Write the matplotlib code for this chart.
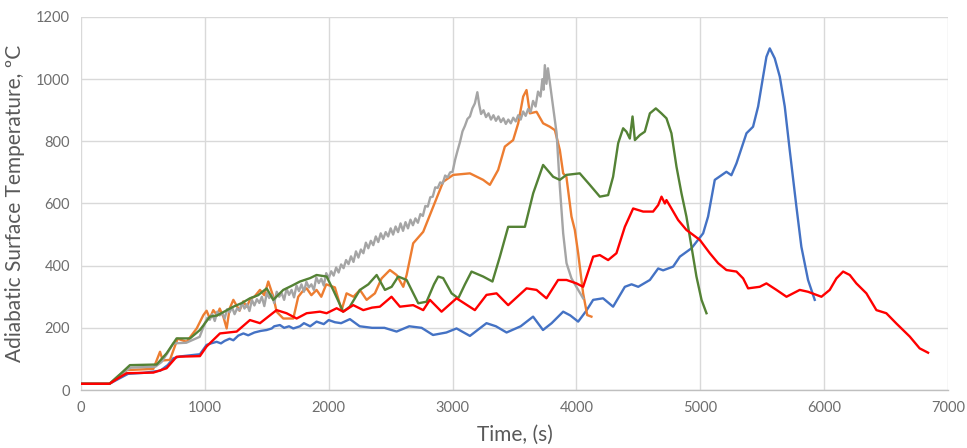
import matplotlib
matplotlib.use("Agg")
import matplotlib.pyplot as plt

# ---- data ----
blue_t = [0, 230, 300, 380, 500, 640, 700, 745, 800, 960, 1014, 1050, 1095, 1130, 1160, 1200, 1230, 1270, 1311, 1350, 1400, 1450, 1499, 1540, 1560, 1606, 1640, 1680, 1714, 1768, 1800, 1850, 1902, 1960, 2000, 2050, 2100, 2171, 2250, 2350, 2450, 2548, 2650, 2750, 2842, 2950, 3032, 3140, 3274, 3350, 3436, 3550, 3650, 3730, 3800, 3893, 3950, 4014, 4080, 4135, 4215, 4296, 4391, 4445, 4499, 4593, 4660, 4700, 4781, 4835, 4929, 5023, 5063, 5117, 5211, 5251, 5292, 5373, 5426, 5467, 5507, 5534, 5561, 5601, 5642, 5682, 5722, 5776, 5816, 5870, 5924]
blue_v = [20, 20, 35, 52, 55, 62, 80, 102, 108, 115, 145, 150, 155, 150, 158, 165, 160, 175, 182, 176, 185, 190, 193, 198, 205, 209, 200, 205, 198, 205, 215, 205, 220, 212, 225, 218, 215, 228, 205, 200, 200, 188, 205, 200, 177, 185, 198, 174, 215, 205, 185, 205, 236, 193, 215, 252, 240, 220, 255, 290, 295, 268, 332, 340, 332, 354, 391, 385, 397, 429, 456, 504, 558, 676, 702, 691, 729, 826, 847, 912, 1008, 1072, 1099, 1067, 1008, 912, 772, 590, 461, 354, 290]

orange_t = [0, 230, 300, 369, 584, 638, 660, 718, 780, 853, 934, 988, 1014, 1040, 1068, 1100, 1120, 1150, 1176, 1200, 1230, 1280, 1310, 1338, 1370, 1400, 1445, 1480, 1512, 1553, 1579, 1633, 1714, 1754, 1790, 1822, 1860, 1902, 1940, 1980, 2050, 2104, 2144, 2200, 2252, 2306, 2373, 2427, 2494, 2548, 2602, 2629, 2682, 2763, 2844, 2924, 3005, 3140, 3247, 3301, 3368, 3422, 3489, 3530, 3570, 3597, 3624, 3678, 3731, 3785, 3826, 3866, 3893, 3919, 3960, 3987, 4014, 4054, 4087, 4121]
orange_v = [20, 20, 40, 64, 68, 123, 95, 97, 165, 155, 198, 241, 255, 230, 257, 240, 262, 235, 198, 262, 290, 255, 285, 268, 295, 300, 322, 305, 349, 300, 252, 230, 230, 300, 318, 327, 305, 322, 300, 340, 330, 257, 311, 300, 322, 290, 311, 359, 386, 370, 332, 370, 472, 509, 590, 670, 692, 697, 676, 660, 708, 783, 804, 858, 944, 965, 890, 895, 858, 847, 836, 772, 697, 686, 558, 515, 440, 311, 241, 236]

gray_t = [0, 230, 300, 400, 600, 650, 700, 745, 850, 958,
          1000, 1020, 1040, 1060, 1080, 1100, 1120, 1140, 1160, 1180, 1200, 1220, 1240, 1260, 1280, 1300, 1320, 1340, 1360, 1380,
          1400, 1420, 1440, 1460, 1480, 1500, 1520, 1540, 1560, 1580, 1600, 1620, 1640, 1660, 1680, 1700, 1720, 1740, 1760, 1780,
          1800, 1820, 1840, 1860, 1880, 1900, 1920, 1940, 1960, 1980, 2000, 2020, 2040, 2060, 2080, 2100, 2120, 2140, 2160, 2180,
          2200, 2220, 2240, 2260, 2280, 2300, 2320, 2340, 2360, 2380, 2400, 2420, 2440, 2460, 2480, 2500, 2520, 2540, 2560, 2580,
          2600, 2620, 2640, 2660, 2680, 2700, 2720, 2740, 2760, 2780, 2800, 2820, 2840, 2860, 2880, 2900, 2920, 2940, 2960, 2980,
          3000, 3020, 3040, 3060, 3080, 3100, 3120, 3140, 3160, 3180, 3200, 3215, 3230, 3250, 3270, 3290, 3310, 3330, 3350, 3370,
          3390, 3410, 3430, 3450, 3470, 3490, 3510, 3530, 3550, 3570, 3590, 3610, 3630, 3650, 3670, 3690, 3710, 3725, 3735, 3745,
          3758, 3770, 3785, 3800, 3815, 3840, 3866, 3893, 3920, 3960, 4014, 4054]
gray_v = [20, 20, 45, 72, 75, 90, 120, 150, 152, 171,
          215, 232, 226, 244, 222, 252, 240, 248, 230, 260, 250, 266, 244, 262, 256, 280, 262, 276, 254, 290,
          272, 292, 280, 300, 270, 312, 296, 306, 280, 316, 300, 312, 290, 326, 306, 322, 298, 336, 318, 340,
          316, 348, 330, 340, 322, 362, 344, 358, 336, 376, 360, 382, 368, 394, 378, 404, 392, 418, 405, 430,
          412, 446, 426, 452, 440, 474, 456, 480, 466, 494, 476, 504, 486, 508, 494, 520, 500, 526, 508, 536,
          512, 540, 520, 548, 530, 552, 538, 566, 560, 592, 590, 620, 622, 652, 650, 668, 664, 690, 684, 700,
          702, 740, 770, 798, 832, 850, 872, 880, 906, 922, 958, 918, 888, 900, 878, 890, 870, 884, 866, 880,
          862, 874, 856, 870, 858, 876, 864, 884, 870, 896, 882, 904, 894, 930, 912, 960, 944, 1000, 966, 1045,
          985, 1035, 990, 945, 900, 826, 654, 504, 408, 359, 322, 295]

green_t = [0, 230, 300, 395, 611, 691, 772, 880, 960, 1041, 1100, 1230, 1300, 1364, 1430, 1499, 1552, 1633, 1700, 1768, 1850, 1902, 1983, 2036, 2117, 2170, 2252, 2320, 2387, 2454, 2508, 2561, 2629, 2669, 2723, 2790, 2850, 2884, 2924, 2992, 3046, 3100, 3153, 3247, 3322, 3382, 3449, 3516, 3584, 3651, 3731, 3812, 3866, 3919, 4027, 4108, 4189, 4256, 4296, 4337, 4377, 4404, 4431, 4453, 4472, 4512, 4552, 4593, 4641, 4686, 4727, 4767, 4808, 4848, 4888, 4929, 4969, 5010, 5050]
green_v = [20, 20, 45, 80, 82, 118, 166, 166, 193, 236, 240, 268, 280, 295, 305, 327, 290, 322, 335, 349, 360, 370, 365, 322, 252, 268, 322, 340, 370, 322, 332, 365, 354, 322, 279, 284, 340, 365, 360, 311, 295, 340, 381, 365, 349, 429, 525, 525, 525, 633, 724, 686, 676, 692, 697, 660, 622, 627, 686, 794, 842, 831, 809, 880, 804, 820, 831, 890, 906, 890, 874, 826, 718, 633, 558, 461, 365, 290, 247]

red_t = [0, 230, 300, 369, 584, 691, 772, 960, 1014, 1122, 1257, 1364, 1445, 1579, 1660, 1741, 1822, 1929, 1983, 2064, 2117, 2198, 2279, 2350, 2413, 2507, 2575, 2682, 2763, 2817, 2911, 3032, 3180, 3274, 3355, 3449, 3597, 3678, 3758, 3852, 3920, 4000, 4054, 4135, 4189, 4256, 4323, 4391, 4458, 4539, 4619, 4660, 4687, 4714, 4727, 4767, 4821, 4888, 4996, 5077, 5144, 5211, 5292, 5346, 5386, 5480, 5534, 5615, 5696, 5803, 5870, 5978, 6045, 6099, 6153, 6207, 6260, 6341, 6422, 6502, 6583, 6691, 6771, 6839]
red_v = [20, 20, 38, 54, 56, 70, 107, 109, 140, 182, 188, 225, 215, 257, 247, 230, 247, 252, 247, 263, 252, 273, 257, 265, 268, 300, 268, 273, 257, 290, 252, 295, 257, 306, 311, 273, 327, 322, 295, 354, 354, 343, 332, 429, 434, 418, 440, 525, 584, 574, 574, 595, 622, 600, 611, 584, 547, 515, 483, 440, 408, 386, 381, 359, 327, 332, 343, 322, 300, 322, 316, 300, 322, 359, 381, 370, 343, 311, 257, 247, 214, 172, 134, 120]

x_ticks = [0, 1000, 2000, 3000, 4000, 5000, 6000, 7000]
y_ticks = [0, 200, 400, 600, 800, 1000, 1200]
x_label = "Time, (s)"
y_label = "Adiabatic Surface Temperature, ºC"

# ---- figure ----
plt.rcParams['font.family'] = ['Lato', 'DejaVu Sans']
fig = plt.figure(figsize=(9.67, 4.48), dpi=100)
ax = fig.add_axes([81/967, 58/448, (948-81)/967, (390-17)/448])

series = [
    (blue_t, blue_v, '#4472C4'),
    (orange_t, orange_v, '#ED7D31'),
    (gray_t, gray_v, '#A5A5A5'),
    (green_t, green_v, '#548235'),
    (red_t, red_v, '#FF0000'),
]
for t, v, c in series:
    ax.plot(t, v, color=c, lw=1.7, solid_joinstyle='round')

ax.set_xlim(0, 7000)
ax.set_ylim(0, 1200)
ax.set_xticks(x_ticks)
ax.set_yticks(y_ticks)
ax.grid(True, color='#D9D9D9', lw=1.0)
ax.set_axisbelow(True)
for s in ['top', 'right', 'left']:
    ax.spines[s].set_visible(False)
ax.spines['bottom'].set_color('#BFBFBF')
ax.spines['bottom'].set_linewidth(1.0)
ax.tick_params(axis='both', length=0, labelsize=10.5, labelcolor='#6E6E6E', pad=8)
ax.set_xlabel(x_label, fontsize=15, color='#595959', labelpad=7)
ax.set_ylabel(y_label, fontsize=15, color='#595959', labelpad=8)

fig.savefig('out.png', dpi=100)
